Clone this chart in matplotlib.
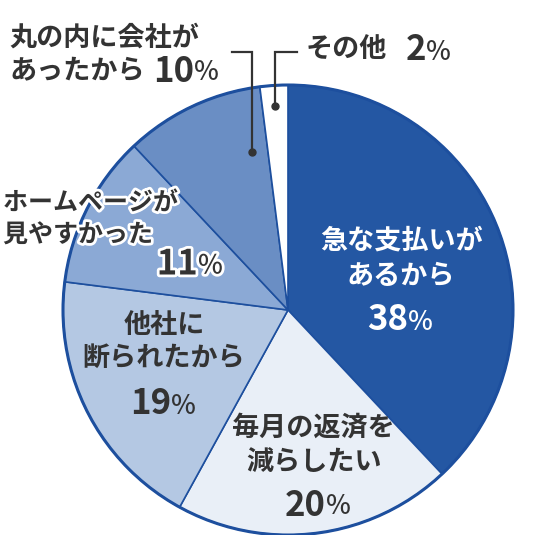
import matplotlib
matplotlib.use("Agg")
import matplotlib.pyplot as plt
import matplotlib.patheffects as pe
from matplotlib.patches import Circle

plt.rcParams['font.family'] = ['Noto Sans CJK JP', 'DejaVu Sans']

# data
categories = ["急な支払いがあるから", "毎月の返済を減らしたい", "他社に断られたから",
              "ホームページが見やすかった", "丸の内に会社があったから", "その他"]
values = [38, 20, 19, 11, 10, 2]
colors = ["#2457a3", "#e9eff7", "#b4c8e3", "#8ba9d5", "#6a8ec4", "#ffffff"]

W, H = 550, 535
fig = plt.figure(figsize=(W / 100, H / 100), dpi=100)
ax = fig.add_axes([0, 0, 1, 1])

def Y(y):
    return H - y

cx, cy, R = 288, 310, 225
edge = "#1d4f9e"
ax.pie(values, startangle=90, counterclock=False, colors=colors,
       center=(cx, Y(cy)), radius=R,
       wedgeprops=dict(edgecolor=edge, linewidth=1.2))
ax.add_patch(Circle((cx, Y(cy)), R, fill=False, edgecolor=edge, linewidth=2.2, zorder=5))

ax.set_xlim(0, W)
ax.set_ylim(0, H)
ax.set_aspect('equal')
ax.axis('off')

dark = "#333333"
halo = [pe.withStroke(linewidth=4, foreground="white")]

def label(x, y, s, size=19.5, color=dark, ha='center', effects=None, weight='bold'):
    t = ax.text(x, Y(y), s, fontsize=size, color=color, ha=ha, va='center',
                fontweight=weight, zorder=10)
    if effects:
        t.set_path_effects(effects)
    return t

def pct(xr, y, num, color=dark, effects=None, nsize=25, psize=19, gap=0):
    label(xr, y, num, size=nsize, color=color, ha='right', effects=effects)
    label(xr + gap, y + 2, "%", size=psize, color=color, ha='left', effects=effects, weight='medium')

# 38%
label(402, 241, "急な支払いが", color="white")
label(401, 276, "あるから", color="white")
pct(408, 320, "38", color="white")

# 20%
label(313, 428, "毎月の返済を")
label(314, 462, "減らしたい")
pct(326, 505, "20")

# 19%
label(164, 325, "他社に")
label(164, 358, "断られたから")
pct(171, 404, "19")

# 11%
label(3, 203, "ホームページが", size=18, ha='left', effects=halo)
label(3, 235, "見やすかった", size=18, ha='left', effects=halo)
pct(198, 264, "11", effects=halo)

# 10%
label(9, 38, "丸の内に会社が", size=19.5, ha='left')
label(9, 71, "あったから", size=19.5, ha='left')
pct(194, 71, "10")

# 2%
label(306, 50, "その他", size=19.5, ha='left')
pct(426, 50, "2")

# leader lines
lw = 1.6
ax.plot([232, 252, 252], [Y(52), Y(52), Y(152)], color=dark, lw=lw, zorder=11,
        solid_joinstyle='miter')
ax.plot([252], [Y(152)], 'o', color=dark, markersize=5, zorder=11)
ax.plot([297, 275, 275], [Y(52), Y(52), Y(106)], color=dark, lw=lw, zorder=11,
        solid_joinstyle='miter')
ax.plot([275], [Y(106)], 'o', color=dark, markersize=5, zorder=11)

fig.savefig("out.png", dpi=100, facecolor="white")
